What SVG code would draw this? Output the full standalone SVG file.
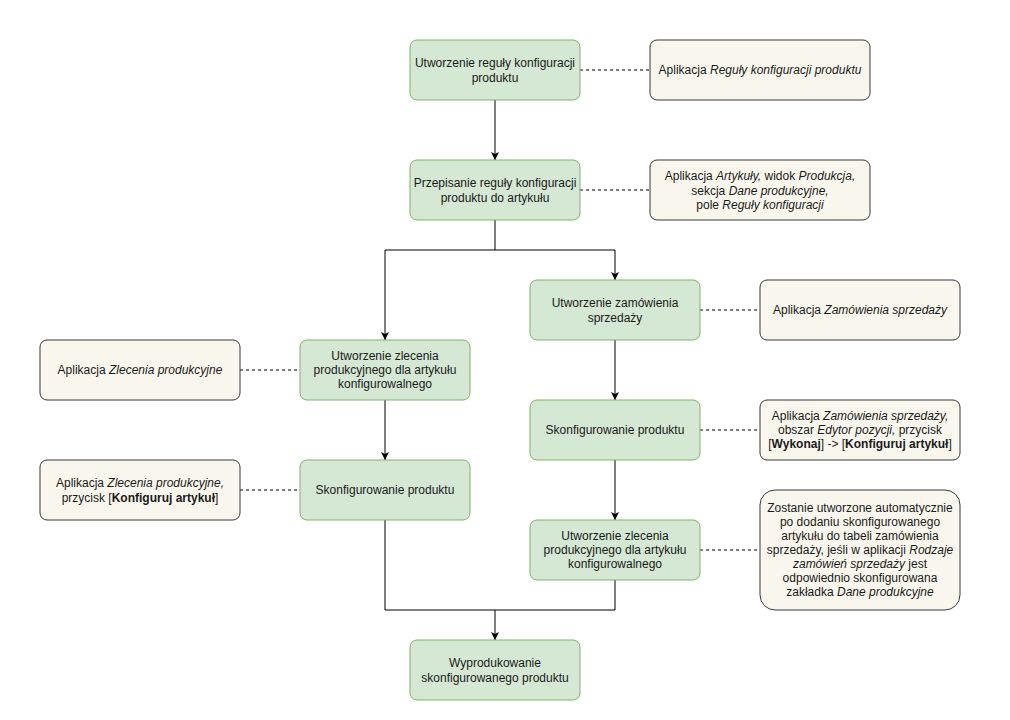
<svg xmlns="http://www.w3.org/2000/svg" width="1010" height="720" viewBox="0 0 1010 720">
<defs>
<marker id="arr" viewBox="0 0 10 10" refX="10" refY="5" markerWidth="8" markerHeight="8" markerUnits="userSpaceOnUse" orient="auto">
<path d="M0,0 L10,5 L0,10 L2.5,5 Z" fill="#000"/>
</marker>
<style>
.step{fill:#d5e8d4;stroke:#82b366;stroke-width:1}
.note{fill:#f9f7ed;stroke:#36393d;stroke-width:1}
text{font-family:"Liberation Sans",Arial,sans-serif;font-size:12px;fill:#1a1a1a;text-anchor:middle}
.i{font-style:italic}
.b{font-weight:bold}
.flow{fill:none;stroke:#000;stroke-width:1}
.dash{fill:none;stroke:#000;stroke-width:1;stroke-dasharray:3 3}
</style>
</defs>
<rect width="1010" height="720" fill="#ffffff"/>
<g id="connectors">
<path class="flow" d="M495,100 V160" marker-end="url(#arr)"/>
<path class="flow" d="M495,220 V250 H385 V340" marker-end="url(#arr)"/>
<path class="flow" d="M495,250 H615 V280" marker-end="url(#arr)"/>
<path class="flow" d="M615,340 V400" marker-end="url(#arr)"/>
<path class="flow" d="M615,460 V520" marker-end="url(#arr)"/>
<path class="flow" d="M385,400 V460" marker-end="url(#arr)"/>
<path class="flow" d="M385,520 V610 H615 V580"/>
<path class="flow" d="M495,610 V640" marker-end="url(#arr)"/>
<path class="dash" d="M580,70 H650"/>
<path class="dash" d="M580,190 H650"/>
<path class="dash" d="M700,310 H760"/>
<path class="dash" d="M700,430 H760"/>
<path class="dash" d="M700,550 H760"/>
<path class="dash" d="M240,370 H300"/>
<path class="dash" d="M240,490 H300"/>
</g>
<g id="n1">
<rect class="step" x="410" y="40" width="170" height="60" rx="7"/>
<text x="495" y="67">Utworzenie reguły konfiguracji</text>
<text x="495" y="82">produktu</text>
</g>
<g id="note1">
<rect class="note" x="650" y="40" width="220" height="60" rx="7"/>
<text x="760" y="74">Aplikacja <tspan class="i">Reguły konfiguracji produktu</tspan></text>
</g>
<g id="n2">
<rect class="step" x="410" y="160" width="170" height="60" rx="7"/>
<text x="495" y="187">Przepisanie reguły konfiguracji</text>
<text x="495" y="202">produktu do artykułu</text>
</g>
<g id="note2">
<rect class="note" x="650" y="160" width="220" height="60" rx="7"/>
<text x="760" y="180">Aplikacja <tspan class="i">Artykuły,</tspan> widok <tspan class="i">Produkcja,</tspan></text>
<text x="760" y="195">sekcja <tspan class="i">Dane produkcyjne,</tspan></text>
<text x="760" y="209">pole <tspan class="i">Reguły konfiguracji</tspan></text>
</g>
<g id="n3">
<rect class="step" x="530" y="280" width="170" height="60" rx="7"/>
<text x="615" y="307">Utworzenie zamówienia</text>
<text x="615" y="322">sprzedaży</text>
</g>
<g id="note3">
<rect class="note" x="760" y="280" width="200" height="60" rx="7"/>
<text x="860" y="314">Aplikacja <tspan class="i">Zamówienia sprzedaży</tspan></text>
</g>
<g id="n4">
<rect class="step" x="530" y="400" width="170" height="60" rx="7"/>
<text x="615" y="434">Skonfigurowanie produktu</text>
</g>
<g id="note4">
<rect class="note" x="760" y="400" width="200" height="60" rx="7"/>
<text x="860" y="420">Aplikacja <tspan class="i">Zamówienia sprzedaży,</tspan></text>
<text x="860" y="434">obszar <tspan class="i">Edytor pozycji,</tspan> przycisk</text>
<text x="860" y="448">[<tspan class="b">Wykonaj</tspan>] -&gt; [<tspan class="b">Konfiguruj artykuł</tspan>]</text>
</g>
<g id="n5">
<rect class="step" x="530" y="520" width="170" height="60" rx="7"/>
<text x="615" y="540">Utworzenie zlecenia</text>
<text x="615" y="554">produkcyjnego dla artykułu</text>
<text x="615" y="568">konfigurowalnego</text>
</g>
<g id="note5">
<rect class="note" x="760" y="490" width="200" height="120" rx="15"/>
<text x="860" y="512">Zostanie utworzone automatycznie</text>
<text x="860" y="526">po dodaniu skonfigurowanego</text>
<text x="860" y="540">artykułu do tabeli zamówienia</text>
<text x="860" y="554">sprzedaży, jeśli w aplikacji <tspan class="i">Rodzaje</tspan></text>
<text x="860" y="568"><tspan class="i">zamówień sprzedaży</tspan> jest</text>
<text x="860" y="582">odpowiednio skonfigurowana</text>
<text x="860" y="596">zakładka <tspan class="i">Dane produkcyjne</tspan></text>
</g>
<g id="n6">
<rect class="step" x="300" y="340" width="170" height="60" rx="7"/>
<text x="385" y="360">Utworzenie zlecenia</text>
<text x="385" y="374">produkcyjnego dla artykułu</text>
<text x="385" y="388">konfigurowalnego</text>
</g>
<g id="note6">
<rect class="note" x="40" y="340" width="200" height="60" rx="7"/>
<text x="140" y="374">Aplikacja <tspan class="i">Zlecenia produkcyjne</tspan></text>
</g>
<g id="n7">
<rect class="step" x="300" y="460" width="170" height="60" rx="7"/>
<text x="385" y="494">Skonfigurowanie produktu</text>
</g>
<g id="note7">
<rect class="note" x="40" y="460" width="200" height="60" rx="7"/>
<text x="140" y="487">Aplikacja <tspan class="i">Zlecenia produkcyjne,</tspan></text>
<text x="140" y="502">przycisk [<tspan class="b">Konfiguruj artykuł</tspan>]</text>
</g>
<g id="n8">
<rect class="step" x="410" y="640" width="170" height="60" rx="7"/>
<text x="495" y="667">Wyprodukowanie</text>
<text x="495" y="682">skonfigurowanego produktu</text>
</g>
</svg>
